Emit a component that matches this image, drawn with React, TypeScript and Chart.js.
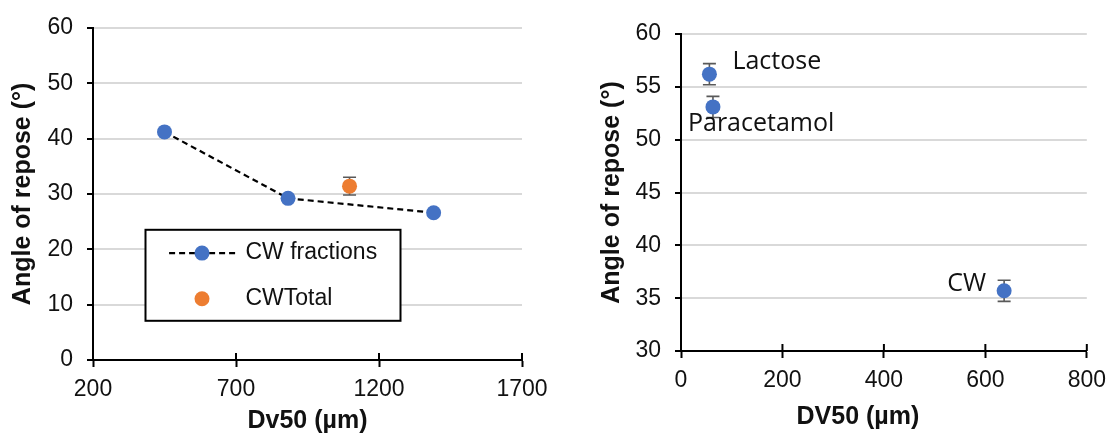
import React, { useEffect, useRef } from "react";
import { Chart, registerables } from "chart.js";

Chart.register(...registerables);

// ---------- Left chart data ----------
const fractionLabel = "CW fractions";
const fractionDv50 = [450, 882, 1391];
const fractionAngle = [41.2, 29.2, 26.6];

const totalLabel = "CWTotal";
const totalDv50 = [1097];
const totalAngle = [31.4];
const totalError = [1.6];

const leftXTicks = [200, 700, 1200, 1700];
const leftYTicks = [0, 10, 20, 30, 40, 50, 60];
const leftXTitle = "Dv50 (µm)";
const leftYTitle = "Angle of repose (°)";

// ---------- Right chart data ----------
const materials = ["Lactose", "Paracetamol", "CW"];
const materialDv50 = [56, 63, 637];
const materialAngle = [56.2, 53.1, 35.7];
const materialError = [1.0, 1.0, 1.0];

const rightXTicks = [0, 200, 400, 600, 800];
const rightYTicks = [30, 35, 40, 45, 50, 55, 60];
const rightXTitle = "DV50 (µm)";
const rightYTitle = "Angle of repose (°)";

// ---------- Styles ----------
const FONT = "'Liberation Sans', Arial, sans-serif";
const LABEL_FONT = "'Open Sans', 'Liberation Sans', sans-serif";
const BLUE = "#4472C4";
const ORANGE = "#ED7D31";
const GRID = "#d9d9d9";
const TEXT = "#111111";
const MARKER_R = 7.5;
const TICK_SIZE = 23;

const errorBarPlugin = {
  id: "errorBars",
  beforeDatasetsDraw(chart: any) {
    const { ctx } = chart;
    const ys = chart.scales.y;
    chart.data.datasets.forEach((ds: any, i: number) => {
      if (!ds.errors) return;
      const meta = chart.getDatasetMeta(i);
      meta.data.forEach((pt: any, j: number) => {
        const e = ds.errors[j];
        if (!e) return;
        const v = ds.data[j].y;
        const x = pt.x;
        const yTop = ys.getPixelForValue(v + e);
        const yBot = ys.getPixelForValue(v - e);
        ctx.save();
        ctx.strokeStyle = "#595959";
        ctx.lineWidth = 1.6;
        ctx.beginPath();
        ctx.moveTo(x, yTop);
        ctx.lineTo(x, yBot);
        ctx.moveTo(x - 6.5, yTop);
        ctx.lineTo(x + 6.5, yTop);
        ctx.moveTo(x - 6.5, yBot);
        ctx.lineTo(x + 6.5, yBot);
        ctx.stroke();
        ctx.restore();
      });
    });
  },
};

const innerTickPlugin = {
  id: "innerTicks",
  afterDraw(chart: any) {
    const xs = chart.scales.x;
    const { ctx } = chart;
    ctx.save();
    ctx.strokeStyle = "#000";
    ctx.lineWidth = 2;
    xs.ticks.forEach((t: any) => {
      const px = xs.getPixelForValue(t.value);
      ctx.beginPath();
      ctx.moveTo(px, xs.top);
      ctx.lineTo(px, xs.top - 7);
      ctx.stroke();
    });
    ctx.restore();
  },
};

const leftLegendPlugin = {
  id: "leftLegend",
  afterDraw(chart: any) {
    const { ctx, chartArea } = chart;
    const bx = chartArea.left + 52.5;
    const by = chartArea.top + 202;
    const bw = 255;
    const bh = 91;
    ctx.save();
    ctx.fillStyle = "#fff";
    ctx.fillRect(bx, by, bw, bh);
    ctx.strokeStyle = "#000";
    ctx.lineWidth = 2;
    ctx.strokeRect(bx, by, bw, bh);

    const ds0 = chart.data.datasets[0];
    const ds1 = chart.data.datasets[1];
    const row1 = by + 23.3;
    const row2 = by + 69;
    ctx.strokeStyle = ds0.borderColor;
    ctx.lineWidth = ds0.borderWidth;
    ctx.setLineDash(ds0.borderDash);
    ctx.beginPath();
    ctx.moveTo(bx + 23.6, row1);
    ctx.lineTo(bx + 91, row1);
    ctx.stroke();
    ctx.setLineDash([]);
    ctx.fillStyle = ds0.pointBackgroundColor;
    ctx.beginPath();
    ctx.arc(bx + 56.5, row1, MARKER_R, 0, Math.PI * 2);
    ctx.fill();
    ctx.fillStyle = ds1.pointBackgroundColor;
    ctx.beginPath();
    ctx.arc(bx + 56.5, row2, MARKER_R, 0, Math.PI * 2);
    ctx.fill();

    ctx.fillStyle = TEXT;
    ctx.font = `23px ${FONT}`;
    ctx.textAlign = "left";
    ctx.textBaseline = "middle";
    ctx.fillText(ds0.label, bx + 100, row1);
    ctx.fillText(ds1.label, bx + 100, row2);
    ctx.restore();
  },
};

const labelPlacement: Record<string, { dx: number; dy: number; align: CanvasTextAlign }> = {
  Lactose: { dx: 23, dy: -12.5, align: "left" },
  Paracetamol: { dx: -25, dy: 17, align: "left" },
  CW: { dx: -18, dy: -7, align: "right" },
};

const pointLabelPlugin = {
  id: "pointLabels",
  afterDatasetsDraw(chart: any) {
    const { ctx } = chart;
    const meta = chart.getDatasetMeta(0);
    ctx.save();
    ctx.font = `25px ${LABEL_FONT}`;
    ctx.fillStyle = TEXT;
    ctx.textBaseline = "middle";
    meta.data.forEach((pt: any, j: number) => {
      const name = materials[j];
      const p = labelPlacement[name] || { dx: 10, dy: -10, align: "left" };
      ctx.textAlign = p.align;
      ctx.fillText(name, pt.x + p.dx, pt.y + p.dy);
    });
    ctx.restore();
  },
};

const rightXTitlePlugin = {
  id: "rightXTitle",
  afterDraw(chart: any) {
    const { ctx, chartArea } = chart;
    ctx.save();
    ctx.font = `bold 25px ${FONT}`;
    ctx.fillStyle = TEXT;
    ctx.textAlign = "center";
    ctx.textBaseline = "middle";
    ctx.fillText(rightXTitle, (chartArea.left + chartArea.right) / 2 - 26, chart.height - 22);
    ctx.restore();
  },
};

function axisTicks(values: number[]) {
  return (scale: any) => {
    scale.ticks = values.map((v) => ({ value: v }));
  };
}

function baseScales(opts: {
  xMin: number; xMax: number; xTicks: number[];
  yMin: number; yMax: number; yTicks: number[];
  yWidth: number; xHeight: number;
  xTitle: string | null; yTitle: string; yTitlePad: number; xTitlePad: number;
}) {
  return {
    x: {
      type: "linear",
      min: opts.xMin,
      max: opts.xMax,
      afterBuildTicks: axisTicks(opts.xTicks),
      afterFit: (s: any) => { s.height = opts.xHeight; },
      grid: {
        display: true,
        drawOnChartArea: false,
        drawTicks: true,
        tickLength: 7,
        tickColor: "#000",
        tickWidth: 2,
      },
      border: { display: true, color: "#000", width: 2 },
      ticks: {
        padding: 9,
        color: TEXT,
        font: { family: FONT, size: TICK_SIZE },
        maxRotation: 0,
        autoSkip: false,
        callback: (v: any) => String(v),
      },
      title: {
        display: !!opts.xTitle,
        text: opts.xTitle || "",
        color: TEXT,
        font: { family: FONT, size: 25, weight: "bold", lineHeight: 1 },
        padding: { top: 0, bottom: opts.xTitlePad },
      },
    },
    y: {
      type: "linear",
      min: opts.yMin,
      max: opts.yMax,
      afterBuildTicks: axisTicks(opts.yTicks),
      afterFit: (s: any) => { s.width = opts.yWidth; },
      grid: {
        display: true,
        drawTicks: true,
        tickLength: 6,
        tickColor: "#000",
        tickWidth: 2,
        lineWidth: 2,
        color: (c: any) => (c.tick && c.tick.value === opts.yMin ? "rgba(0,0,0,0)" : GRID),
      },
      border: { display: true, color: "#000", width: 2 },
      ticks: {
        padding: 14,
        color: TEXT,
        font: { family: FONT, size: TICK_SIZE },
        autoSkip: false,
        callback: (v: any) => String(v),
      },
      title: {
        display: true,
        text: opts.yTitle,
        color: TEXT,
        font: { family: FONT, size: 25, weight: "bold", lineHeight: 1 },
        padding: { top: opts.yTitlePad, bottom: 0 },
      },
    },
  };
}

function LeftChart() {
  const ref = useRef<HTMLCanvasElement>(null);
  useEffect(() => {
    if (!ref.current) return;
    const chart = new Chart(ref.current, {
      type: "scatter",
      data: {
        datasets: [
          {
            label: fractionLabel,
            data: fractionDv50.map((x, i) => ({ x, y: fractionAngle[i] })),
            showLine: true,
            borderColor: "#000",
            borderWidth: 2.2,
            borderDash: [6, 4],
            pointBackgroundColor: BLUE,
            pointBorderColor: BLUE,
            pointBorderWidth: 0,
            pointRadius: MARKER_R,
          } as any,
          {
            label: totalLabel,
            data: totalDv50.map((x, i) => ({ x, y: totalAngle[i] })),
            errors: totalError,
            showLine: false,
            pointBackgroundColor: ORANGE,
            pointBorderColor: ORANGE,
            pointBorderWidth: 0,
            pointRadius: MARKER_R,
          } as any,
        ],
      },
      options: {
        responsive: false,
        animation: false,
        devicePixelRatio: 1,
        layout: { padding: { top: 23, right: 38, left: 0, bottom: 0 } },
        plugins: { legend: { display: false }, tooltip: { enabled: false } },
        scales: baseScales({
          xMin: 200, xMax: 1700, xTicks: leftXTicks,
          yMin: 0, yMax: 60, yTicks: leftYTicks,
          yWidth: 93, xHeight: 79,
          xTitle: leftXTitle, yTitle: leftYTitle, yTitlePad: 10.5, xTitlePad: 5.5,
        }) as any,
      },
      plugins: [errorBarPlugin, innerTickPlugin, leftLegendPlugin],
    });
    return () => chart.destroy();
  }, []);
  return (
    <canvas
      ref={ref}
      width={560}
      height={439}
      style={{ position: "absolute", left: 0, top: 0, width: 560, height: 439 }}
    />
  );
}

function RightChart() {
  const ref = useRef<HTMLCanvasElement>(null);
  useEffect(() => {
    if (!ref.current) return;
    const chart = new Chart(ref.current, {
      type: "scatter",
      data: {
        datasets: [
          {
            label: "Materials",
            data: materialDv50.map((x, i) => ({ x, y: materialAngle[i] })),
            errors: materialError,
            showLine: false,
            pointBackgroundColor: BLUE,
            pointBorderColor: BLUE,
            pointBorderWidth: 0,
            pointRadius: MARKER_R,
          } as any,
        ],
      },
      options: {
        responsive: false,
        animation: false,
        devicePixelRatio: 1,
        layout: { padding: { top: 34, right: 22, left: 0, bottom: 0 } },
        plugins: { legend: { display: false }, tooltip: { enabled: false } },
        scales: baseScales({
          xMin: 0, xMax: 800, xTicks: rightXTicks,
          yMin: 30, yMax: 60, yTicks: rightYTicks,
          yWidth: 121, xHeight: 88,
          xTitle: null, yTitle: rightYTitle, yTitlePad: 40, xTitlePad: 0,
        }) as any,
      },
      plugins: [errorBarPlugin, innerTickPlugin, pointLabelPlugin, rightXTitlePlugin],
    });
    return () => chart.destroy();
  }, []);
  return (
    <canvas
      ref={ref}
      width={555}
      height={439}
      style={{ position: "absolute", left: 560, top: 0, width: 555, height: 439 }}
    />
  );
}

export default function App() {
  return (
    <div
      style={{
        position: "absolute",
        left: 0,
        top: 0,
        width: 1115,
        height: 439,
        background: "#fff",
        overflow: "hidden",
      }}
    >
      <LeftChart />
      <RightChart />
    </div>
  );
}
